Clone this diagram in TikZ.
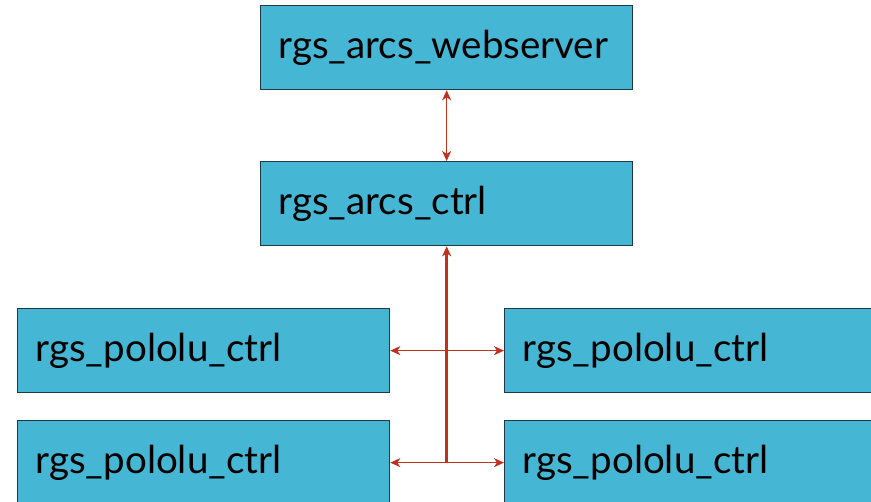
\documentclass[tikz,border=0pt]{standalone}
\usepackage{fontspec}
\setmainfont{Lato}
\usetikzlibrary{arrows.meta}
\definecolor{boxfill}{HTML}{45B6D3}
\definecolor{boxline}{HTML}{1E3848}
\definecolor{arrowred}{HTML}{C0301C}
\tikzset{
  mod/.style={draw=boxline, line width=1.3pt, fill=boxfill, minimum width=372pt, minimum height=84pt,
    text width=336pt, align=left, inner sep=0pt, anchor=north west,
    font=\fontsize{38.5}{44}\selectfont, text=black},
  link/.style={draw=arrowred, line width=1.6pt, {Stealth[length=10pt,width=9pt,inset=3pt]}-{Stealth[length=10pt,width=9pt,inset=3pt]}},
  trunk/.style={draw=arrowred, line width=2.4pt, -{Stealth[length=10pt,width=9pt,inset=3pt]}}
}
\begin{document}
\begin{tikzpicture}[x=1pt,y=-1pt]
\useasboundingbox (0,0) rectangle (871,502);
\node[mod] (web) at (260,5) {rgs\_arcs\_webserver};
\node[mod] (ctrl) at (260,161) {rgs\_arcs\_ctrl};
\node[mod] (p1) at (17,308) {rgs\_pololu\_ctrl};
\node[mod] (p2) at (504,308) {rgs\_pololu\_ctrl};
\node[mod] (p3) at (17,420) {rgs\_pololu\_ctrl};
\node[mod] (p4) at (504,420) {rgs\_pololu\_ctrl};
\coordinate (j) at (p3.east -| ctrl.south);
\draw[trunk] (j) -- (ctrl.south);
\draw[link] (web.south) -- (ctrl.north);
\draw[link] (p1.east) -- (p2.west);
\draw[link] (p3.east) -- (p4.west);
\end{tikzpicture}
\end{document}
